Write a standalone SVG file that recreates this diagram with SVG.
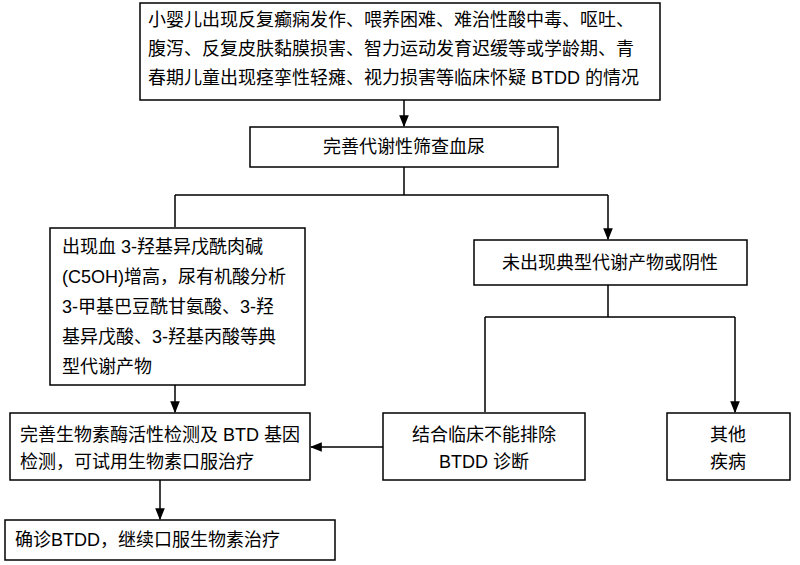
<svg xmlns="http://www.w3.org/2000/svg" width="800" height="565" viewBox="0 0 800 565">
<defs>
<style>
rect{fill:#fff;stroke:#000;stroke-width:1.5}
text{font-family:"Liberation Sans","Noto Sans CJK SC",sans-serif;font-size:18px;fill:#000}
.c{text-anchor:middle}
#connectors path{fill:none;stroke:#000;stroke-width:1.5}
</style>
<marker id="a" viewBox="0 0 10 10" refX="9" refY="5" markerWidth="8" markerHeight="8" orient="auto"><path d="M0,1L10,5L0,9z" fill="#000"/></marker>
</defs>
<rect x="0" y="0" width="800" height="565" style="stroke:none"/>
<g id="connectors">
<path d="M404,100V126" marker-end="url(#a)"/>
<path d="M404,167V195M175,195H608M175,195V227M608,195V239" marker-end="url(#a)"/>
<path d="M608,285V317M485,317H735M485,317V412M735,317V412" marker-end="url(#a)"/>
<path d="M383,447H311" marker-end="url(#a)"/>
<path d="M175,385V412" marker-end="url(#a)"/>
<path d="M160,480V519" marker-end="url(#a)"/>
</g>
<g id="n1"><rect x="140" y="3" width="520" height="97"/>
<text x="148" y="26">小婴儿出现反复癫痫发作、喂养困难、难治性酸中毒、呕吐、</text>
<text x="148" y="55">腹泻、反复皮肤黏膜损害、智力运动发育迟缓等或学龄期、青</text>
<text x="148" y="84">春期儿童出现痉挛性轻瘫、视力损害等临床怀疑 BTDD 的情况</text></g>
<g id="n2"><rect x="250" y="127" width="308" height="40"/><text class="c" x="404" y="153">完善代谢性筛查血尿</text></g>
<g id="n3"><rect x="50" y="228" width="255" height="157"/>
<text x="62" y="253">出现血 3-羟基异戊酰肉碱</text>
<text x="62" y="283">(C5OH)增高，尿有机酸分析</text>
<text x="62" y="313">3-甲基巴豆酰甘氨酸、3-羟</text>
<text x="62" y="343">基异戊酸、3-羟基丙酸等典</text>
<text x="62" y="373">型代谢产物</text></g>
<g id="n4"><rect x="474" y="240" width="273" height="45"/><text class="c" x="610" y="269">未出现典型代谢产物或阴性</text></g>
<g id="n5"><rect x="383" y="413" width="202" height="67"/><text class="c" x="484" y="441">结合临床不能排除</text><text class="c" x="484" y="468">BTDD 诊断</text></g>
<g id="n6"><rect x="667" y="413" width="123" height="67"/><text class="c" x="728" y="441">其他</text><text class="c" x="728" y="468">疾病</text></g>
<g id="n7"><rect x="10" y="413" width="300" height="67"/><text x="20" y="441">完善生物素酶活性检测及 BTD 基因</text><text x="20" y="468">检测，可试用生物素口服治疗</text></g>
<g id="n8"><rect x="5" y="520" width="330" height="40"/><text x="15" y="546">确诊BTDD，继续口服生物素治疗</text></g>
</svg>
